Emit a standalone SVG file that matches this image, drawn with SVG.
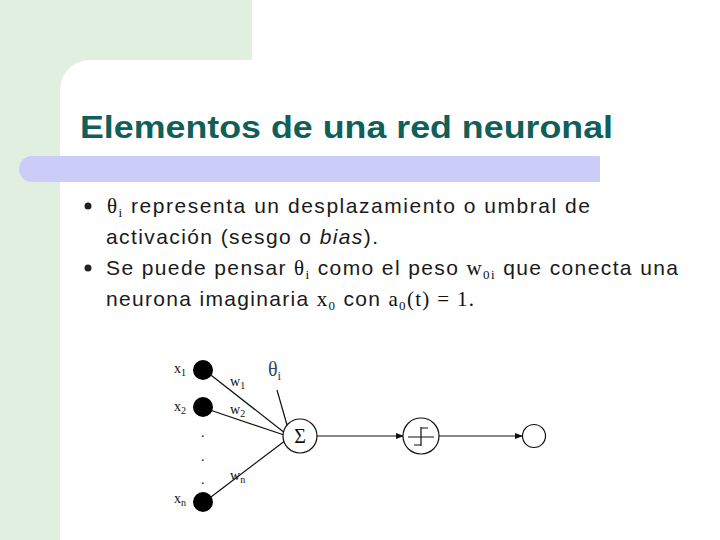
<svg xmlns="http://www.w3.org/2000/svg" width="720" height="540" viewBox="0 0 720 540">
<defs>
<style>
.t{font-family:"Liberation Sans",Arial,sans-serif;font-size:21px;fill:#1a1a1a}
.s{font-family:"Liberation Serif","Times New Roman",serif;fill:#111}
.ln{stroke:#111;stroke-width:1.2;fill:none}
</style>
<marker id="ar" markerWidth="8" markerHeight="8" refX="7" refY="4" orient="auto" markerUnits="userSpaceOnUse"><path d="M0,1 L8,4 L0,7 z" fill="#111"/></marker>
</defs>
<rect width="720" height="540" fill="#fff"/>
<rect x="0" y="0" width="252" height="540" fill="#e1efe1"/>
<path d="M90,60 H720 V540 H60 V90 A30,30 0 0 1 90,60 Z" fill="#fff"/>
<path d="M32,156 H600 V182 H32 A13,13 0 0 1 32,156 Z" fill="#ccccf8"/>
<text x="80" y="138" font-family="Liberation Sans,Arial,sans-serif" font-weight="bold" font-size="32" fill="#0f5f5a" textLength="533" lengthAdjust="spacingAndGlyphs">Elementos de una red neuronal</text>
<g id="bullets">
<circle cx="88" cy="206" r="3.5" fill="#222"/>
<circle cx="88" cy="268" r="3.5" fill="#222"/>
<text class="t" x="107" y="213" textLength="483"><tspan class="s">θ</tspan><tspan class="s" font-size="13" dy="4">i</tspan><tspan dy="-4"> representa un desplazamiento o umbral de</tspan></text>
<text class="t" x="106" y="244" textLength="272">activación (sesgo o <tspan font-style="italic">bias</tspan>).</text>
<text class="t" x="106" y="275" textLength="572"><tspan>Se puede pensar </tspan><tspan class="s">θ</tspan><tspan class="s" font-size="13" dy="4">i</tspan><tspan dy="-4"> como el peso </tspan><tspan class="s">w</tspan><tspan class="s" font-size="13" dy="4">0i</tspan><tspan dy="-4"> que conecta una</tspan></text>
<text class="t" x="106" y="306" textLength="368"><tspan>neurona imaginaria </tspan><tspan class="s">x</tspan><tspan class="s" font-size="13" dy="4">0</tspan><tspan dy="-4"> con </tspan><tspan class="s">a</tspan><tspan class="s" font-size="13" dy="4">0</tspan><tspan class="s" dy="-4">(t) = 1.</tspan></text>
</g>
<g id="connectors">
<line class="ln" x1="207" y1="372" x2="290" y2="437"/>
<line class="ln" x1="207" y1="409" x2="290" y2="437"/>
<line class="ln" x1="207" y1="500" x2="290" y2="437"/>
<line class="ln" x1="277" y1="390" x2="289" y2="432"/>
<line class="ln" x1="317" y1="436" x2="403" y2="436" marker-end="url(#ar)"/>
<line class="ln" x1="439" y1="436" x2="522" y2="436" marker-end="url(#ar)"/>
</g>
<g id="inputs">
<circle cx="203" cy="370" r="10" fill="#000"/>
<circle cx="203" cy="407" r="10" fill="#000"/>
<circle cx="203" cy="502" r="10" fill="#000"/>
<text class="s" x="174" y="373" font-size="14">x<tspan font-size="10" dy="3">1</tspan></text>
<text class="s" x="174" y="411" font-size="14">x<tspan font-size="10" dy="3">2</tspan></text>
<text class="s" x="174" y="503" font-size="14">x<tspan font-size="10" dy="3">n</tspan></text>
<text class="s" x="201" y="437" font-size="14">.</text>
<text class="s" x="201" y="461" font-size="14">.</text>
<text class="s" x="201" y="484" font-size="14">.</text>
<text class="s" x="230" y="386" font-size="14">w<tspan font-size="10" dy="3">1</tspan></text>
<text class="s" x="230" y="414" font-size="14">w<tspan font-size="10" dy="3">2</tspan></text>
<text class="s" x="230" y="480" font-size="14">w<tspan font-size="10" dy="3">n</tspan></text>
<text class="s" x="268" y="376" font-size="20" style="fill:#2a4a6a">θ<tspan font-size="13" dy="4">i</tspan></text>
</g>
<g id="sum">
<circle cx="300" cy="436" r="17" fill="#fff" stroke="#111" stroke-width="1.2"/>
<text class="s" x="300" y="443" font-size="20" text-anchor="middle">Σ</text>
</g>
<g id="threshold">
<circle cx="421" cy="436" r="18" fill="#fff" stroke="#111" stroke-width="1.2"/>
<path class="ln" d="M408,437 H434 M421,427 V446 M421,428 H428 M414,445 H421"/>
</g>
<g id="output">
<circle cx="534" cy="436" r="11.5" fill="#fff" stroke="#111" stroke-width="1.2"/>
</g>
</svg>
